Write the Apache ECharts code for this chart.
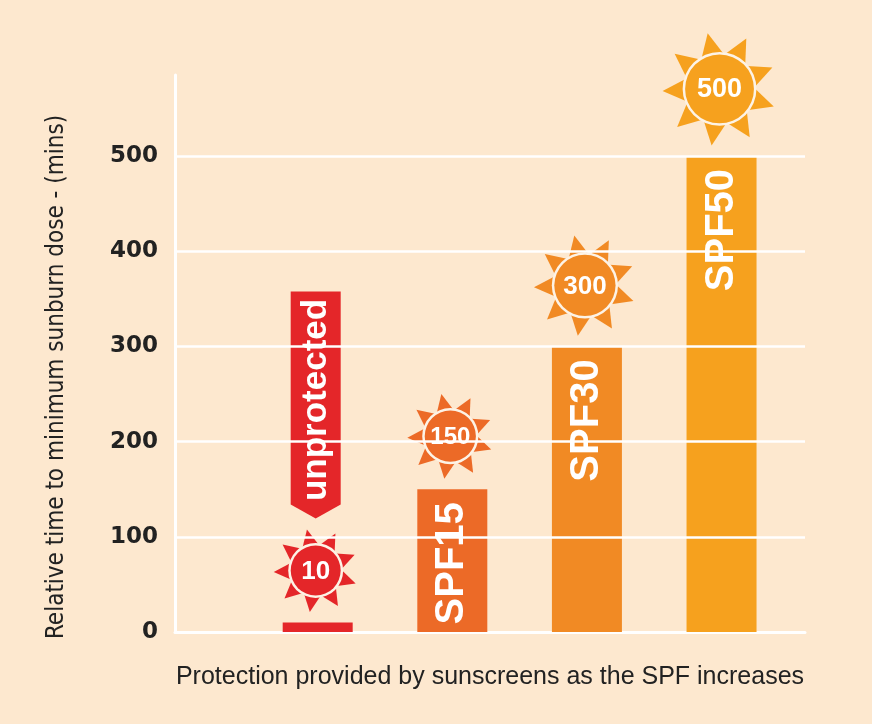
<!DOCTYPE html>
<html>
<head>
<meta charset="utf-8">
<script src="https://cdn.jsdelivr.net/npm/echarts@6/dist/echarts.min.js"></script>
<style>
  html, body { margin: 0; padding: 0; background: #fde8cf; }
  #chart { width: 872px; height: 724px; }
</style>
</head>
<body>
<div id="chart"></div>
<script>
// data
const categories = ['unprotected', 'SPF15', 'SPF30', 'SPF50'];
const positions = [1, 2, 3, 4];
const minutes = [10, 150, 300, 500];
const yTicks = [0, 100, 200, 300, 400, 500];
const xTitle = 'Protection provided by sunscreens as the SPF increases';
const yTitle = 'Relative time to minimum sunburn dose - (mins)';

// styling
const barColors = ['#e42629', '#ec6a27', '#f18a24', '#f6a11e'];
const sunRadius = [42, 43, 51, 57];
const sunFont = [26, 24, 26, 27];
const ink = '#222222';

const chart = echarts.init(document.getElementById('chart'));

function renderSun(params, api) {
  const i = params.dataIndex;
  const top = api.coord([api.value(0), api.value(1)]);
  const color = barColors[i];
  const R = sunRadius[i];
  const r = R * 0.63;
  const cx = top[0] - 2;
  const cy = top[1] - R - 10;
  const children = [];
  const pt = (ang, rad) => [cx + rad * Math.sin(ang), cy - rad * Math.cos(ang)];
  // 9 rays
  for (let k = 0; k < 9; k++) {
    const a = (-12 + k * 40) * Math.PI / 180;
    const da = 0.31;
    children.push({
      type: 'polygon',
      shape: { points: [pt(a, R), pt(a - da, r), pt(a + da, r)] },
      style: { fill: color }
    });
  }
  children.push({ type: 'circle', shape: { cx: cx, cy: cy, r: r + 1 }, style: { fill: '#fdf3e6' } });
  children.push({ type: 'circle', shape: { cx: cx, cy: cy, r: r - 1.5 }, style: { fill: color } });
  children.push({
    type: 'text',
    style: {
      text: String(api.value(1)), x: cx, y: cy + 1,
      fill: '#ffffff', fontSize: sunFont[i], fontWeight: 'bold',
      fontFamily: 'Liberation Sans, Arial, sans-serif',
      align: 'center', verticalAlign: 'middle'
    }
  });
  if (i === 0) {
    // "unprotected" arrow pointing down at the sun
    const tip = cy - R - 10;
    const x = cx;
    const y0 = tip - 227;
    const y1 = tip - 14;
    children.push({
      type: 'polygon',
      shape: { points: [[x - 25, y0], [x + 25, y0], [x + 25, y1], [x, tip], [x - 25, y1]] },
      style: { fill: color }
    });
    children.push({
      type: 'text',
      x: x + 1, y: (y0 + y1) / 2 + 2, rotation: Math.PI / 2,
      style: {
        text: 'unprotected', x: 0, y: 0,
        fill: '#ffffff', fontSize: 35, fontWeight: 'bold',
        fontFamily: 'Liberation Sans, Arial, sans-serif',
        align: 'center', verticalAlign: 'middle'
      }
    });
  }
  return { type: 'group', children: children };
}

const points = positions.map((p, i) => [p, minutes[i]]);

const option = {
  backgroundColor: '#fde8cf',
  animation: false,
  grid: { left: 175, right: 67, top: 75, bottom: 92 },
  xAxis: {
    type: 'value',
    min: -0.06,
    max: 4.62,
    name: xTitle,
    nameLocation: 'middle',
    nameGap: 33,
    nameTextStyle: { color: ink, fontSize: 25, fontFamily: 'Liberation Sans, Arial, sans-serif' },
    axisLine: { show: true, lineStyle: { color: '#ffffff', width: 3 } },
    axisTick: { show: false },
    axisLabel: { show: false },
    splitLine: { show: false }
  },
  yAxis: {
    type: 'value',
    min: 0,
    max: 585,
    interval: 100,
    axisLine: { show: true, onZero: false, lineStyle: { color: '#ffffff', width: 3 } },
    axisTick: { show: false },
    splitLine: { show: false },
    axisLabel: {
      color: ink, fontSize: 23, fontWeight: 'bold', margin: 17,
      fontFamily: 'DejaVu Sans, sans-serif',
      formatter: v => (yTicks.indexOf(v) >= 0 ? String(v) : '')
    }
  },
  graphic: [{
    type: 'text',
    x: 57, y: 377, rotation: Math.PI / 2,
    style: {
      text: yTitle, fill: ink, fontSize: 24,
      fontFamily: 'Liberation Sans Narrow, DejaVu Sans Condensed, sans-serif',
      align: 'center', verticalAlign: 'middle'
    }
  }],
  series: [
    {
      // gridlines behind the bars
      type: 'line',
      z: 1,
      data: points,
      showSymbol: false,
      lineStyle: { width: 0, opacity: 0 },
      silent: true,
      markLine: {
        silent: true,
        symbol: 'none',
        label: { show: false },
        lineStyle: { color: '#ffffff', width: 2.5, type: 'solid' },
        data: yTicks.filter(v => v > 0).map(v => ({ yAxis: v }))
      }
    },
    {
      type: 'bar',
      z: 2,
      barWidth: 70,
      data: points.map((p, i) => ({
        value: p,
        itemStyle: { color: barColors[i] },
        label: { show: i > 0 }
      })),
      label: {
        position: ['50%', 13],
        rotate: 90,
        align: 'right',
        verticalAlign: 'middle',
        color: '#ffffff',
        fontSize: 40,
        fontWeight: 'bold',
        fontFamily: 'Liberation Sans, Arial, sans-serif',
        formatter: p => categories[p.dataIndex]
      }
    },
    {
      type: 'custom',
      z: 3,
      clip: false,
      data: points,
      encode: { x: 0, y: 1 },
      renderItem: renderSun
    }
  ]
};

chart.setOption(option);
</script>
</body>
</html>
